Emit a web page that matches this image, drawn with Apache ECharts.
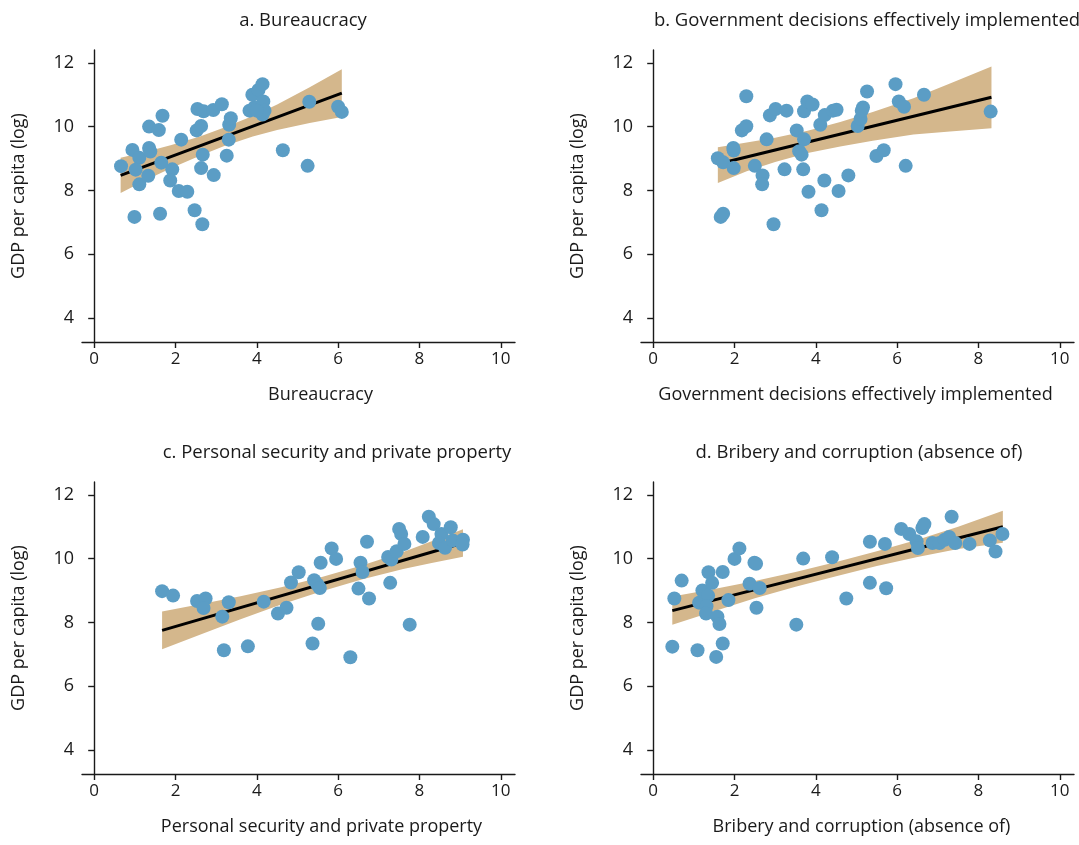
<!DOCTYPE html>
<html>
<head>
<meta charset="utf-8">
<script src="https://cdn.jsdelivr.net/npm/echarts@6/dist/echarts.min.js"></script>
<style>
  html, body { margin: 0; padding: 0; background: #fff; }
  #chart { width: 1079px; height: 845px; }
</style>
</head>
<body>
<div id="chart"></div>
<script>
const panelTitles = [
  "a. Bureaucracy",
  "b. Government decisions effectively implemented",
  "c. Personal security and private property",
  "d. Bribery and corruption (absence of)"
]
const xTitles = [
  "Bureaucracy",
  "Government decisions effectively implemented",
  "Personal security and private property",
  "Bribery and corruption (absence of)"
]
const yTitle = "GDP per capita (log)"
const xTicks = [0, 2, 4, 6, 8, 10]
const yTicks = [4, 6, 8, 10, 12]

// country points [score, log GDP per capita]
const ptsA = [[0.66,8.76],[0.94,9.27],[1.11,9.02],[1.02,8.65],[1.11,8.19],[0.99,7.17],[1.35,10.0],[1.59,9.89],[1.68,10.34],[1.35,9.33],[1.38,9.22],[1.33,8.46],[1.65,8.87],[1.62,7.27],[1.92,8.66],[1.87,8.31],[2.14,9.59],[2.08,7.98],[2.29,7.96],[2.47,7.38],[2.66,6.94],[2.54,10.55],[2.69,10.48],[2.93,10.52],[3.14,10.70],[2.52,9.88],[2.63,10.02],[2.67,9.12],[2.63,8.70],[2.94,8.48],[3.31,9.59],[3.32,10.06],[3.36,10.26],[3.26,9.09],[3.82,10.5],[3.94,10.6],[3.89,11.0],[4.04,11.15],[4.14,11.33],[4.16,10.79],[4.19,10.5],[4.14,10.38],[4.0,10.5],[4.64,9.26],[5.29,10.78],[5.25,8.77],[6.0,10.62],[6.09,10.46]]
const ptsB = [[1.59,9.01],[1.72,8.88],[1.97,9.33],[1.98,9.25],[1.98,8.70],[1.66,7.17],[1.72,7.27],[2.29,10.95],[2.18,9.88],[2.29,10.01],[2.50,8.77],[2.69,8.47],[2.68,8.19],[2.79,9.60],[2.87,10.35],[3.01,10.55],[2.96,6.94],[3.28,10.5],[3.23,8.66],[3.53,9.88],[3.71,10.48],[3.79,10.79],[3.92,10.69],[3.71,9.60],[3.59,9.23],[3.65,9.12],[3.69,8.66],[3.82,7.96],[4.11,10.06],[4.22,10.36],[4.42,10.5],[4.51,10.53],[4.21,8.31],[4.14,7.38],[4.56,7.98],[4.80,8.47],[5.03,10.02],[5.10,10.24],[5.16,10.6],[5.13,10.5],[5.26,11.1],[5.49,9.08],[5.67,9.26],[5.96,11.33],[6.04,10.79],[6.17,10.62],[6.21,8.77],[6.66,11.0],[8.30,10.47]]
const ptsC = [[1.67,8.98],[1.94,8.84],[2.53,8.67],[2.74,8.75],[2.69,8.45],[3.31,8.63],[3.15,8.18],[3.19,7.13],[3.78,7.25],[4.17,8.65],[4.52,8.28],[4.73,8.46],[4.84,9.25],[5.03,9.57],[5.41,9.32],[5.49,9.19],[5.55,9.08],[5.57,9.87],[5.84,10.32],[5.95,9.99],[5.51,7.96],[5.37,7.34],[6.30,6.91],[6.50,9.06],[6.55,9.87],[6.60,9.58],[6.71,10.53],[6.76,8.75],[7.28,9.24],[7.76,7.93],[7.23,10.05],[7.31,9.97],[7.44,10.23],[7.50,10.93],[7.55,10.77],[7.63,10.46],[8.08,10.68],[8.23,11.31],[8.35,11.08],[8.54,10.77],[8.48,10.49],[8.77,10.98],[8.63,10.34],[8.82,10.57],[9.07,10.59],[9.06,10.44]]
const ptsD = [[0.47,7.24],[0.52,8.75],[0.70,9.31],[1.09,7.13],[1.13,8.62],[1.21,9.0],[1.35,8.84],[1.31,8.51],[1.30,8.28],[1.36,9.57],[1.45,9.24],[1.55,6.92],[1.58,8.18],[1.63,7.95],[1.71,9.58],[1.71,7.34],[1.85,8.70],[2.0,9.99],[2.12,10.32],[2.49,9.87],[2.53,9.84],[2.37,9.21],[2.62,9.08],[2.54,8.46],[3.52,7.93],[3.69,10.0],[4.40,10.04],[4.75,8.75],[5.33,10.53],[5.33,9.24],[5.70,10.46],[5.73,9.07],[6.10,10.93],[6.30,10.77],[6.48,10.54],[6.51,10.33],[6.62,10.96],[6.67,11.08],[6.87,10.49],[7.04,10.49],[7.17,10.59],[7.28,10.68],[7.34,11.31],[7.43,10.49],[7.78,10.46],[8.28,10.57],[8.42,10.22],[8.59,10.77]]

// fitted line end points
const fitA = [[0.65,8.47],[6.09,11.05]]
const fitB = [[1.59,8.83],[8.32,10.92]]
const fitC = [[1.67,7.75],[9.07,10.49]]
const fitD = [[0.47,8.37],[8.6,11.0]]

// confidence band, read at a few x positions
const bandXA = [0.65,1.3,1.9,2.6,3.2,3.9,4.5,5.3,6.09]
const bandLoA = [7.92,8.34,8.70,9.09,9.39,9.69,9.89,10.11,10.30]
const bandHiA = [9.02,9.22,9.42,9.69,9.97,10.33,10.69,11.23,11.80]
const bandXB = [1.59,2.3,3.0,3.8,4.6,5.4,6.4,7.3,8.32]
const bandLoB = [8.23,8.60,8.89,9.17,9.38,9.56,9.75,9.85,9.95]
const bandHiB = [9.35,9.50,9.65,9.87,10.14,10.46,10.89,11.35,11.88]
const bandXC = [1.67,2.6,3.6,4.6,5.6,6.6,7.6,8.3,9.07]
const bandLoC = [7.16,7.61,8.10,8.56,8.98,9.35,9.67,9.86,10.06]
const bandHiC = [8.34,8.57,8.82,9.10,9.42,9.79,10.21,10.54,10.92]
const bandXD = [0.47,1.5,2.5,3.5,4.5,5.5,6.5,7.5,8.6]
const bandLoD = [7.93,8.35,8.76,9.12,9.45,9.77,10.05,10.30,10.50]
const bandHiD = [8.81,9.05,9.30,9.58,9.89,10.23,10.59,11.00,11.50]

const panels = [
  { pts: ptsA, fit: fitA, bx: bandXA, lo: bandLoA, hi: bandHiA },
  { pts: ptsB, fit: fitB, bx: bandXB, lo: bandLoB, hi: bandHiB },
  { pts: ptsC, fit: fitC, bx: bandXC, lo: bandLoC, hi: bandHiC },
  { pts: ptsD, fit: fitD, bx: bandXD, lo: bandLoD, hi: bandHiD }
]

const gridPos = [[82, 50], [641, 50], [82, 482], [641, 482]]
const titleCenters = [298, 862, 332, 854]
const xTitleShift = [22, -2, 23, 4]

const FONT = "'Open Sans', 'DejaVu Sans', sans-serif"
const INK = "#1a1a1a"
const DOT = "#5b9dc5"
const BAND = "#d4b78c"

const chart = echarts.init(document.getElementById("chart"), null, { renderer: "canvas" })

const axisCommon = {
  axisLine: { show: true, lineStyle: { color: INK, width: 1.4 } },
  axisTick: { show: true, inside: false, length: 6, lineStyle: { color: INK, width: 1.4 } },
  splitLine: { show: false }
}

const option = {
  animation: false,
  backgroundColor: "#fff",
  title: panelTitles.map((t, i) => ({
    text: t,
    left: titleCenters[i],
    top: i < 2 ? 6 : 438,
    textAlign: "center",
    textStyle: { fontFamily: FONT, fontSize: 18.5, fontWeight: "normal", color: INK }
  })),
  grid: gridPos.map(p => ({ left: p[0], top: p[1], width: 433, height: 292 })),
  xAxis: panels.map((p, i) => ({
    ...axisCommon,
    type: "value",
    gridIndex: i,
    min: -0.3,
    max: 10.35,
    axisTick: { ...axisCommon.axisTick, customValues: xTicks },
    axisLabel: { customValues: xTicks, margin: 9, fontFamily: FONT, fontSize: 17, color: INK },
    name: xTitles[i],
    nameLocation: "middle",
    nameGap: 44,
    nameTextStyle: {
      fontFamily: FONT, fontSize: 18, color: INK,
      padding: xTitleShift[i] > 0 ? [0, 0, 0, 2 * xTitleShift[i]] : [0, -2 * xTitleShift[i], 0, 0]
    }
  })),
  yAxis: panels.map((p, i) => ({
    ...axisCommon,
    type: "value",
    gridIndex: i,
    min: 3.25,
    max: 12.4,
    axisTick: { ...axisCommon.axisTick, customValues: yTicks },
    axisLabel: { customValues: yTicks, margin: 8, fontFamily: FONT, fontSize: 18, color: INK },
    name: yTitle,
    nameLocation: "middle",
    nameGap: 54,
    nameTextStyle: { fontFamily: FONT, fontSize: 18, color: INK }
  })),
  series: []
}

panels.forEach((p, i) => {
  option.series.push({
    type: "custom",
    xAxisIndex: i,
    yAxisIndex: i,
    silent: true,
    z: 1,
    data: p.bx.map((x, k) => [x, p.lo[k], p.hi[k]]),
    renderItem: (params, api) => {
      if (params.dataIndex !== 0) return null
      const upper = p.bx.map((x, k) => api.coord([x, p.hi[k]]))
      const lower = p.bx.map((x, k) => api.coord([x, p.lo[k]])).reverse()
      return {
        type: "polygon",
        shape: { points: upper.concat(lower) },
        style: { fill: BAND }
      }
    }
  })
  option.series.push({
    type: "line",
    xAxisIndex: i,
    yAxisIndex: i,
    z: 2,
    data: p.fit,
    symbol: "none",
    lineStyle: { color: "#000", width: 3 }
  })
  option.series.push({
    type: "scatter",
    xAxisIndex: i,
    yAxisIndex: i,
    z: 3,
    data: p.pts,
    symbolSize: 14,
    itemStyle: { color: DOT, opacity: 1 }
  })
})

chart.setOption(option)
</script>
</body>
</html>
